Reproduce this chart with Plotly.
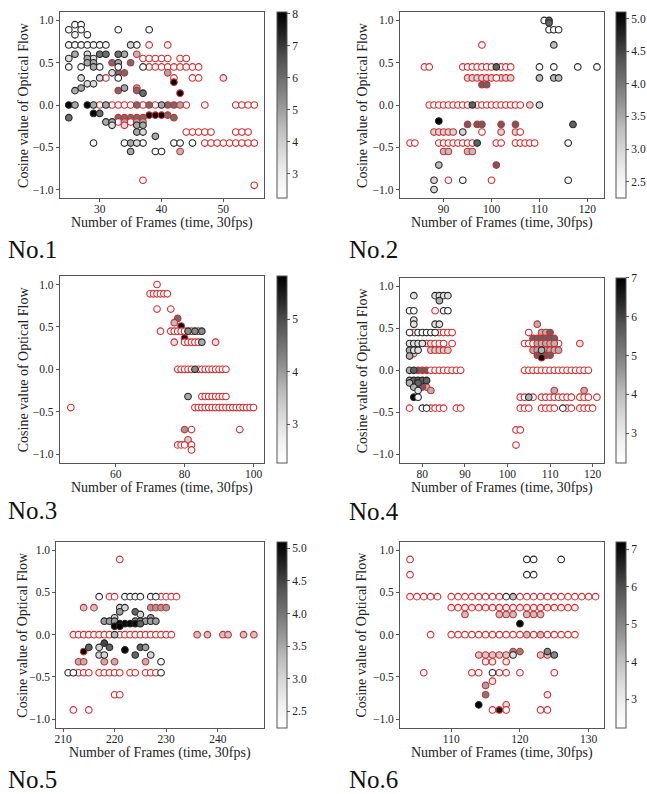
import plotly.graph_objects as go

W, H = 647, 794
FONT = "Liberation Serif, Times New Roman, Times, serif"
RED = "#d42a2e"
BLK = "#262626"

# matplotlib "Greys" colormap (low = white, high = black)
GREYS = [[0.0, "#ffffff"], [0.125, "#f0f0f0"], [0.25, "#d9d9d9"], [0.375, "#bdbdbd"],
         [0.5, "#969696"], [0.625, "#737373"], [0.75, "#525252"], [0.875, "#252525"],
         [1.0, "#000000"]]

# ---------------- data: rows of (cosine value, edge group, colour value, frames) -------------
no1_rows = [
    (0.95, "k", 2.3, [26, 27]),
    (0.89, "k", 2.3, [25, 27, 33, 38]),
    (0.83, "k", 2.3, [26, 28]),
    (0.71, "k", 2.3, [25, 26, 27, 28, 29, 30, 31, 36]),
    (0.71, "k", 3.8, [35]),
    (0.71, "r", 2.3, [38, 41]),
    (0.60, "k", 4.8, [26, 34]),
    (0.60, "k", 3.6, [28]),
    (0.60, "k", 6.0, [30, 31, 33]),
    (0.60, "r", 4.5, [36]),
    (0.55, "k", 3.6, [25, 29]),
    (0.55, "k", 4.8, [28]),
    (0.55, "r", 2.3, [37, 38, 39, 40, 41, 43, 44]),
    (0.50, "k", 4.8, [28, 29, 33]),
    (0.50, "r", 6.0, [32, 35]),
    (0.45, "k", 2.3, [25, 27, 30, 33, 37]),
    (0.45, "k", 4.8, [29]),
    (0.45, "r", 2.3, [38, 39, 40, 41, 42, 43, 44, 45, 46]),
    (0.38, "k", 3.6, [32]),
    (0.38, "r", 6.0, [33, 34]),
    (0.38, "r", 4.8, [41]),
    (0.32, "k", 3.6, [27, 30]),
    (0.32, "r", 2.3, [31, 42, 45, 46]),
    (0.32, "k", 2.3, [33]),
    (0.32, "r", 3.4, [50]),
    (0.25, "k", 3.6, [28, 29]),
    (0.20, "k", 4.8, [27, 34]),
    (0.20, "r", 4.8, [36]),
    (0.17, "k", 4.8, [26]),
    (0.17, "r", 6.0, [33, 36]),
    (0.27, "r", 8.0, [42]),
    (0.14, "k", 6.0, [37]),
    (0.14, "r", 8.0, [43]),
    (0.00, "k", 8.0, [25, 28]),
    (0.00, "k", 4.8, [26, 29, 31, 40]),
    (0.00, "r", 2.3, [30, 32, 33, 34, 35, 37, 39, 44, 47, 52, 53, 54, 55]),
    (0.00, "r", 6.0, [36, 38, 41, 42]),
    (0.00, "r", 4.8, [43]),
    (-0.10, "k", 8.0, [29]),
    (-0.10, "k", 6.0, [30]),
    (-0.12, "r", 8.0, [38, 39, 40]),
    (-0.12, "r", 6.0, [41]),
    (-0.15, "k", 6.0, [25]),
    (-0.15, "r", 6.0, [33, 34, 35, 36, 37, 42]),
    (-0.20, "k", 4.8, [31, 32]),
    (-0.20, "r", 2.3, [33, 35]),
    (-0.20, "r", 4.8, [34, 36, 37]),
    (-0.24, "k", 3.6, [32]),
    (-0.24, "r", 3.6, [34]),
    (-0.24, "k", 4.8, [36, 37]),
    (-0.32, "k", 4.8, [36]),
    (-0.32, "k", 3.6, [37]),
    (-0.32, "r", 2.3, [44, 45, 46, 47, 48, 52, 53, 54]),
    (-0.37, "k", 4.8, [39]),
    (-0.45, "k", 2.3, [29, 34, 37, 42, 43, 45]),
    (-0.45, "k", 4.8, [35]),
    (-0.45, "k", 3.6, [36]),
    (-0.45, "r", 2.3, [47, 48, 49, 50, 51, 52, 53, 54, 55]),
    (-0.55, "k", 4.8, [35]),
    (-0.55, "k", 2.3, [39, 40]),
    (-0.55, "r", 4.5, [43]),
    (-0.89, "r", 2.3, [37]),
    (-0.95, "r", 2.3, [55]),
]

no2_rows = [
    (1.00, "k", 2.3, [111]),
    (1.00, "k", 4.2, [112]),
    (0.97, "k", 4.2, [112]),
    (0.89, "k", 2.3, [112, 113, 114]),
    (0.71, "r", 2.3, [98]),
    (0.71, "k", 3.3, [113]),
    (0.45, "r", 2.3, [86, 87, 94, 95, 96, 97, 98, 99, 100, 102, 103, 104]),
    (0.45, "k", 4.2, [101]),
    (0.45, "k", 2.3, [110, 113, 118, 122]),
    (0.32, "r", 3.0, [95, 96, 97, 98, 99, 100, 102, 103, 104]),
    (0.32, "r", 2.3, [101]),
    (0.32, "k", 3.3, [110, 113, 114]),
    (0.24, "r", 4.2, [98, 99]),
    (0.00, "r", 2.3, [87, 88, 89, 90, 91, 92, 93, 94, 95, 97, 98, 99, 100, 101, 102,
                      103, 104, 105, 106]),
    (0.00, "k", 4.2, [96]),
    (0.00, "r", 3.0, [108]),
    (0.00, "k", 3.0, [110]),
    (-0.19, "k", 5.1, [89]),
    (-0.23, "r", 4.2, [95, 97, 98, 102, 105]),
    (-0.23, "k", 4.2, [117]),
    (-0.32, "r", 3.0, [88, 89, 90, 91, 92, 102, 105]),
    (-0.32, "k", 3.0, [94]),
    (-0.32, "r", 2.3, [98, 106]),
    (-0.45, "r", 2.3, [83, 84, 89, 90, 91, 92, 93, 94, 95, 96, 101, 102, 105, 106, 107,
                       108, 109]),
    (-0.45, "k", 4.2, [97]),
    (-0.45, "k", 2.3, [116]),
    (-0.55, "r", 3.3, [90, 91, 95, 96]),
    (-0.71, "k", 3.3, [89]),
    (-0.71, "r", 4.2, [101]),
    (-0.89, "k", 3.0, [88]),
    (-0.89, "r", 2.3, [91, 100]),
    (-0.89, "k", 2.3, [94, 116]),
    (-1.00, "k", 3.0, [88]),
]

no3_rows = [
    (-0.45, "r", 2.3, [47]),
    (1.00, "r", 2.3, [72]),
    (0.89, "r", 2.3, [70, 71, 72, 73, 74, 75]),
    (0.71, "r", 2.3, [72, 76]),
    (0.60, "r", 4.6, [78]),
    (0.55, "r", 3.6, [77]),
    (0.51, "r", 5.8, [79]),
    (0.45, "r", 2.3, [73, 76, 77, 78, 79, 80, 82, 84]),
    (0.45, "k", 4.2, [81, 83, 85]),
    (0.37, "r", 5.6, [80]),
    (0.32, "r", 3.0, [77, 89]),
    (0.32, "r", 2.3, [80, 81, 82, 83, 84]),
    (0.32, "k", 3.8, [85]),
    (0.00, "r", 2.3, [78, 79, 80, 81, 82, 84, 85, 86, 87, 88, 89, 90, 91, 92]),
    (0.00, "k", 4.2, [83]),
    (-0.32, "k", 3.8, [81]),
    (-0.32, "r", 2.3, [85, 86, 87, 88, 89, 90, 91, 92]),
    (-0.45, "r", 2.3, [83, 84, 85, 86, 87, 88, 89, 90, 91, 92, 93, 94, 95, 96, 97, 98,
                       99, 100]),
    (-0.71, "r", 4.0, [80]),
    (-0.71, "r", 2.3, [82, 96]),
    (-0.83, "r", 3.3, [81]),
    (-0.89, "r", 2.3, [78, 79, 80, 82]),
    (-0.95, "r", 2.3, [82]),
]

no4_rows = [
    (0.89, "k", 3.2, [78, 83, 84, 85, 86]),
    (0.83, "k", 4.2, [84]),
    (0.71, "k", 2.3, [77, 78, 85, 86]),
    (0.71, "r", 2.3, [83]),
    (0.60, "k", 3.2, [78]),
    (0.55, "k", 3.2, [78, 83, 84]),
    (0.45, "k", 2.3, [77, 79, 80, 81, 82, 83]),
    (0.45, "r", 2.3, [78, 84, 85, 86, 87]),
    (0.32, "k", 3.2, [77, 78, 79, 80]),
    (0.32, "r", 3.2, [81, 82]),
    (0.32, "r", 2.3, [83, 84, 85, 87]),
    (0.24, "k", 4.2, [77]),
    (0.24, "k", 3.2, [78, 79]),
    (0.24, "r", 3.6, [82, 83, 84, 85, 86]),
    (0.20, "r", 3.6, [78]),
    (0.17, "k", 4.2, [77]),
    (0.00, "k", 4.2, [77]),
    (0.00, "k", 5.5, [78]),
    (0.00, "r", 5.5, [79, 80, 81]),
    (0.00, "r", 2.3, [82, 83, 84, 85, 86, 87, 88, 89]),
    (-0.12, "k", 4.2, [77]),
    (-0.12, "k", 5.5, [78, 79, 80, 81]),
    (-0.15, "k", 4.2, [77]),
    (-0.15, "k", 5.5, [79]),
    (-0.20, "k", 4.2, [78]),
    (-0.20, "r", 4.2, [79, 81]),
    (-0.20, "r", 5.5, [80]),
    (-0.24, "k", 3.2, [79]),
    (-0.24, "r", 4.2, [82]),
    (-0.32, "k", 7.0, [78]),
    (-0.32, "k", 2.3, [79]),
    (-0.45, "r", 2.3, [77, 82, 83, 84, 85, 88, 89]),
    (-0.45, "k", 2.3, [80, 81]),
    (0.55, "r", 4.2, [107]),
    (0.45, "r", 2.3, [105]),
    (0.45, "r", 4.2, [108, 109]),
    (0.45, "r", 5.5, [110]),
    (0.38, "r", 5.5, [106, 107, 108, 109, 110, 111]),
    (0.32, "r", 2.3, [104, 105, 106, 112]),
    (0.32, "r", 4.2, [107, 108, 109, 110, 111]),
    (0.32, "r", 3.2, [117]),
    (0.24, "r", 4.2, [106, 107, 109, 110, 111, 112]),
    (0.24, "k", 4.2, [108]),
    (0.18, "r", 5.5, [107, 108, 109, 110]),
    (0.15, "r", 7.0, [108]),
    (0.00, "r", 2.3, [104, 105, 106, 107, 108, 109, 110, 111, 112, 113, 114, 115, 116,
                      117, 118, 119]),
    (-0.24, "r", 4.2, [111, 118]),
    (-0.32, "r", 2.3, [103, 104, 106, 108, 109, 110, 111, 112, 113, 114, 115, 117, 118,
                       119, 121]),
    (-0.32, "k", 4.2, [105]),
    (-0.45, "r", 2.3, [103, 104, 105, 108, 109, 110, 111, 114, 115, 117, 118, 119, 120]),
    (-0.45, "k", 2.3, [113]),
    (-0.71, "r", 2.3, [102, 103]),
    (-0.89, "r", 2.3, [102]),
]

no5_rows = [
    (0.89, "r", 2.3, [221]),
    (0.45, "k", 2.3, [217, 222, 223, 224, 225, 227, 228]),
    (0.45, "r", 2.3, [219, 220, 229, 230, 231, 232]),
    (0.32, "r", 3.2, [214, 216]),
    (0.32, "k", 3.0, [221, 222]),
    (0.32, "r", 3.6, [227, 228, 229, 230]),
    (0.27, "k", 3.6, [221]),
    (0.27, "k", 4.2, [224]),
    (0.24, "k", 3.0, [225]),
    (0.20, "k", 3.0, [220]),
    (0.20, "k", 3.6, [227]),
    (0.16, "k", 3.6, [218, 219, 220, 224, 225, 226, 227, 228]),
    (0.13, "k", 5.0, [221, 222, 223, 224]),
    (0.13, "k", 4.2, [225]),
    (0.10, "k", 5.1, [220, 221]),
    (0.00, "r", 2.3, [212, 213, 214, 215, 216, 217, 218, 219, 221, 222, 223, 224, 225,
                      226, 227, 228, 229, 230, 231]),
    (0.00, "k", 3.3, [220]),
    (0.00, "r", 3.2, [236, 238, 241, 242, 245, 247]),
    (-0.10, "k", 4.5, [218]),
    (-0.15, "k", 4.2, [215, 219, 225]),
    (-0.15, "k", 3.0, [217]),
    (-0.15, "k", 3.6, [226]),
    (-0.18, "k", 5.1, [222]),
    (-0.20, "r", 5.1, [214]),
    (-0.24, "k", 3.0, [217, 218, 227]),
    (-0.24, "k", 4.2, [224]),
    (-0.32, "r", 3.4, [213, 214, 218, 220, 226]),
    (-0.32, "k", 2.3, [229]),
    (-0.45, "k", 2.3, [211, 212, 229]),
    (-0.45, "r", 2.3, [213, 214, 215, 217, 218, 219, 220, 221, 223, 224, 226, 227, 228]),
    (-0.71, "r", 2.3, [220, 221]),
    (-0.89, "r", 2.3, [212, 215]),
]

no6_rows = [
    (0.89, "r", 2.3, [104]),
    (0.89, "k", 2.3, [121, 122, 126]),
    (0.71, "r", 2.3, [104]),
    (0.71, "k", 2.3, [121, 122]),
    (0.45, "r", 2.3, [104, 105, 106, 107, 108, 110, 111, 112, 113, 114, 115, 116, 117,
                      120, 121, 122, 123, 124, 125, 126, 127, 128, 129, 130, 131]),
    (0.45, "k", 2.3, [118]),
    (0.45, "k", 4.0, [119]),
    (0.32, "r", 3.0, [110, 111, 112, 113, 114, 115, 116, 117, 118, 119, 120, 121, 122,
                      123, 124, 125, 126, 127, 128]),
    (0.24, "r", 4.0, [112, 117, 118, 119, 121, 122, 123]),
    (0.13, "k", 7.2, [120]),
    (0.00, "r", 2.3, [107, 110, 111, 112, 113, 114, 115, 116, 117, 118, 119, 120, 122,
                      124, 125, 126, 127, 128]),
    (0.00, "r", 4.0, [121, 123]),
    (-0.20, "r", 5.0, [119, 120]),
    (-0.20, "k", 5.0, [124]),
    (-0.24, "r", 3.8, [114, 115, 116, 117, 118, 123, 124]),
    (-0.24, "k", 3.3, [119]),
    (-0.24, "k", 5.0, [125]),
    (-0.32, "r", 3.0, [115, 116, 118]),
    (-0.45, "r", 2.3, [106, 113, 114, 117, 118, 120, 125]),
    (-0.45, "k", 2.3, [116]),
    (-0.55, "r", 3.0, [116]),
    (-0.60, "r", 4.5, [115]),
    (-0.71, "r", 5.2, [115]),
    (-0.71, "r", 3.0, [124]),
    (-0.83, "k", 7.2, [114]),
    (-0.83, "r", 3.3, [118]),
    (-0.89, "r", 2.3, [116, 118, 123, 124]),
    (-0.89, "r", 6.8, [117]),
]

x_ticks = {
    1: [30, 40, 50],
    2: [90, 100, 110, 120],
    3: [60, 80, 100],
    4: [80, 90, 100, 110, 120],
    5: [210, 220, 230, 240],
    6: [110, 120, 130],
}
cbar_ticks = {
    1: [3, 4, 5, 6, 7, 8],
    2: [2.5, 3.0, 3.5, 4.0, 4.5, 5.0],
    3: [3, 4, 5],
    4: [3, 4, 5, 6, 7],
    5: [2.5, 3.0, 3.5, 4.0, 4.5, 5.0],
    6: [3, 4, 5, 6, 7],
}
cbar_range = {1: (2.25, 8.06), 2: (2.25, 5.1), 3: (2.26, 5.83),
              4: (2.24, 7.0), 5: (2.25, 5.1), 6: (2.24, 7.2)}
x_range = {1: (23.55, 56.6), 2: (80.85, 123.5), 3: (43.8, 103.1),
           4: (74.7, 122.7), 5: (208.7, 249.0), 6: (102.55, 132.3)}
panel_names = {1: "No.1", 2: "No.2", 3: "No.3", 4: "No.4", 5: "No.5", 6: "No.6"}
all_rows = {1: no1_rows, 2: no2_rows, 3: no3_rows, 4: no4_rows, 5: no5_rows, 6: no6_rows}

# ---------------- layout geometry (pixels) ----------------
plot_px = {  # x0, x1, y0(top), y1(bottom)
    1: (58, 263, 12, 198),
    2: (399, 604, 12, 198),
    3: (58, 263, 276, 462.7),
    4: (399, 604, 278, 462.7),
    5: (54.5, 263, 541.7, 727.7),
    6: (399.3, 604.3, 541.7, 727.7),
}
cbar_x = {1: 276, 2: 616, 3: 276, 4: 616, 5: 276, 6: 616}
ytitle_x = {1: 21, 2: 361, 3: 21, 4: 361, 5: 21, 6: 361}
xtitle_y = {1: 223, 2: 223, 3: 488, 4: 488, 5: 753, 6: 753}
label_pos = {1: (4, 250), 2: (346, 250), 3: (4, 510), 4: (346, 511), 5: (4, 779), 6: (346, 779)}


def px(x):
    return x / W


def py(y):
    return 1 - y / H


fig = go.Figure()
annotations = []
layout = {}

for i in range(1, 7):
    xs, ys, vs, es = [], [], [], []
    rows = sorted(all_rows[i], key=lambda r: 0 if r[1] == "r" else 1)
    for yv, grp, val, frames in rows:
        for f in frames:
            xs.append(f)
            ys.append(yv)
            vs.append(val)
            es.append(RED if grp == "r" else BLK)
    x0, x1, y0, y1 = plot_px[i]
    xa = "x" if i == 1 else f"x{i}"
    ya = "y" if i == 1 else f"y{i}"
    cmin, cmax = cbar_range[i]
    fig.add_trace(go.Scatter(
        x=xs, y=ys, mode="markers", xaxis=xa, yaxis=ya, showlegend=False,
        hoverinfo="skip",
        marker=dict(
            size=6.6, color=vs, colorscale=GREYS, cmin=cmin, cmax=cmax,
            line=dict(color=es, width=1.1),
            colorbar=dict(
                x=px(cbar_x[i]), xanchor="left", xpad=0, ypad=0,
                y=py((y0 + y1) / 2), yanchor="middle", len=(y1 - y0) / H, lenmode="fraction",
                thickness=10, outlinecolor="#555555", outlinewidth=1,
                ticks="outside", ticklen=3, tickcolor="#555555",
                tickvals=cbar_ticks[i],
                tickformat=".1f" if i in (2, 5) else "d",
                tickfont=dict(family=FONT, size=11.5, color="#222222"),
            ),
        ),
    ))
    axis_common = dict(showline=True, mirror=True, linecolor="#555555", linewidth=1,
                       ticks="outside", ticklen=3, tickcolor="#555555", showgrid=False,
                       zeroline=False, tickfont=dict(family=FONT, size=11.5, color="#222222"))
    layout["xaxis" if i == 1 else f"xaxis{i}"] = dict(
        domain=[px(x0), px(x1)], range=list(x_range[i]), anchor=ya,
        tickvals=x_ticks[i], ticklabelstandoff=-3, **axis_common)
    layout["yaxis" if i == 1 else f"yaxis{i}"] = dict(
        domain=[py(y1), py(y0)], range=[-1.1, 1.1], anchor=xa,
        tickvals=[-1.0, -0.5, 0.0, 0.5, 1.0], tickformat=".1f", **axis_common)
    annotations.append(dict(
        text="Number of Frames (time, 30fps)", x=px((x0 + x1) / 2), y=py(xtitle_y[i]),
        xref="paper", yref="paper", showarrow=False, xanchor="center", yanchor="middle",
        font=dict(family=FONT, size=14, color="#222222")))
    annotations.append(dict(
        text="Cosine value of Optical Flow", x=px(ytitle_x[i]), y=py((y0 + y1) / 2),
        xref="paper", yref="paper", showarrow=False, xanchor="center", yanchor="middle",
        textangle=-90, font=dict(family=FONT, size=14, color="#222222")))
    lx, ly = label_pos[i]
    annotations.append(dict(
        text=panel_names[i], x=px(lx), y=py(ly), xref="paper", yref="paper",
        showarrow=False, xanchor="left", yanchor="middle",
        font=dict(family=FONT, size=25, color="#111111")))

fig.update_layout(width=W, height=H, margin=dict(l=0, r=0, t=0, b=0),
                  paper_bgcolor="white", plot_bgcolor="white",
                  annotations=annotations, **layout)
fig.write_html("out.html", config={"displayModeBar": False},
               post_script="document.body.style.margin='0';document.body.style.padding='0';")
